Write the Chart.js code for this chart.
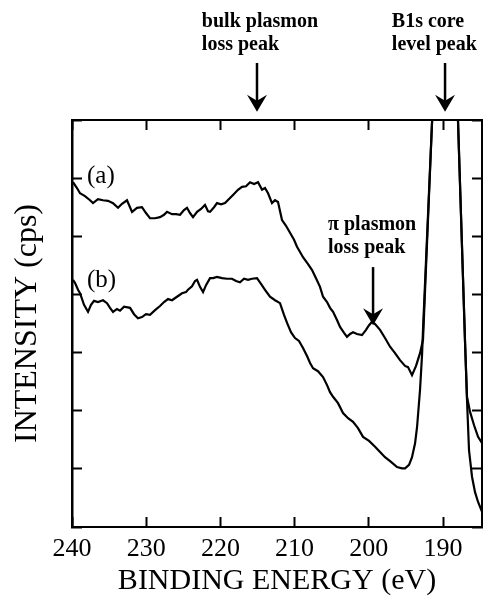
<!DOCTYPE html>
<html>
<head>
<meta charset="utf-8">
<script src="https://cdn.jsdelivr.net/npm/chart.js@4.4.1/dist/chart.umd.min.js"></script>
<style>
  html, body { margin: 0; padding: 0; background: #fff; }
</style>
</head>
<body>
<canvas id="myChart" width="484" height="604"></canvas>
<script>
// binding energy (eV) and intensity (arb.)
const xTicks = [240, 230, 220, 210, 200, 190];
const yTicks = [0, 1, 2, 3, 4, 5, 6, 7];

const aEnergy = [239.87, 239.33, 238.92, 238.25, 237.57, 237.17, 236.50, 235.82, 235.15, 234.47,
  233.80, 233.26, 232.59, 231.91, 231.24, 230.57, 230.03, 229.49, 228.81, 228.14,
  227.60, 227.20, 226.52, 225.98, 225.44, 224.91, 224.50, 224.10, 223.69, 223.15,
  222.61, 222.08, 221.67, 221.40, 220.86, 220.46, 219.92, 219.38, 218.84, 218.30,
  217.63, 217.09, 216.55, 216.01, 215.47, 214.93, 214.39, 213.99, 213.58, 213.05,
  212.64, 212.24, 211.70, 211.16, 210.62, 210.08, 209.68, 209.27, 208.87, 208.19,
  207.65, 207.12, 206.58, 206.17, 205.63, 205.23, 204.82, 204.29, 203.88, 203.34,
  202.94, 202.53, 202.13, 201.59, 200.92, 200.38, 199.97, 199.57, 199.16, 198.49,
  197.82, 197.14, 196.47, 195.80, 195.12, 194.72, 194.18, 193.64, 193.10, 192.70,
  191.48, 189.46, 187.98, 187.03, 186.77, 186.36, 185.82, 185.28, 184.74];
const aCounts = [5.93, 5.83, 5.74, 5.69, 5.62, 5.57, 5.64, 5.62, 5.61, 5.57,
  5.49, 5.56, 5.62, 5.42, 5.49, 5.50, 5.40, 5.31, 5.31, 5.33,
  5.37, 5.42, 5.38, 5.38, 5.37, 5.45, 5.49, 5.40, 5.33, 5.42,
  5.47, 5.54, 5.43, 5.42, 5.50, 5.57, 5.55, 5.57, 5.64, 5.71,
  5.80, 5.85, 5.86, 5.93, 5.90, 5.93, 5.80, 5.83, 5.74, 5.57,
  5.62, 5.59, 5.28, 5.18, 5.06, 4.94, 4.82, 4.73, 4.64, 4.52,
  4.42, 4.28, 4.13, 3.96, 3.87, 3.77, 3.70, 3.56, 3.44, 3.34,
  3.27, 3.32, 3.35, 3.32, 3.30, 3.39, 3.47, 3.53, 3.49, 3.39,
  3.25, 3.10, 2.99, 2.87, 2.77, 2.75, 2.61, 2.77, 2.99, 3.22,
  6.97, 12.6, 6.97, 3.16, 2.24, 1.98, 1.75, 1.55, 1.44];

const bEnergy = [239.87, 239.60, 239.19, 238.92, 238.38, 237.84, 237.44, 237.03, 236.50, 235.82,
  235.28, 234.88, 234.47, 233.94, 233.53, 232.99, 232.18, 231.64, 231.11, 230.57,
  230.03, 229.49, 228.81, 228.14, 227.60, 227.06, 226.52, 225.85, 225.18, 224.64,
  224.37, 223.83, 223.42, 223.15, 222.75, 222.34, 221.94, 221.40, 220.99, 220.46,
  219.78, 219.11, 218.44, 217.90, 217.36, 216.82, 216.28, 215.74, 215.07, 214.53,
  213.99, 213.32, 212.64, 211.97, 211.43, 211.02, 210.49, 209.95, 209.41, 208.87,
  208.33, 207.92, 207.52, 206.85, 206.17, 205.63, 205.23, 204.82, 204.15, 203.48,
  202.80, 202.13, 201.46, 200.78, 199.97, 199.16, 198.49, 197.82, 197.01, 196.20,
  195.53, 195.12, 194.58, 194.18, 193.77, 193.50, 193.10, 192.83, 192.70, 191.48,
  189.46, 187.98, 187.03, 186.77, 186.50, 186.09, 185.69, 185.28, 184.74];
const bCounts = [4.25, 4.20, 4.08, 4.02, 3.82, 3.70, 3.82, 3.89, 3.87, 3.90,
  3.85, 3.77, 3.70, 3.75, 3.72, 3.79, 3.77, 3.66, 3.59, 3.61,
  3.66, 3.65, 3.73, 3.80, 3.87, 3.92, 3.90, 3.96, 4.02, 4.04,
  4.08, 4.14, 4.23, 4.25, 4.13, 4.04, 4.16, 4.28, 4.28, 4.30,
  4.28, 4.27, 4.27, 4.23, 4.21, 4.27, 4.25, 4.27, 4.28, 4.18,
  4.08, 3.96, 3.90, 3.85, 3.65, 3.51, 3.35, 3.25, 3.20, 3.08,
  2.94, 2.82, 2.73, 2.68, 2.58, 2.44, 2.32, 2.24, 2.13, 1.96,
  1.87, 1.81, 1.70, 1.55, 1.48, 1.38, 1.29, 1.20, 1.12, 1.03,
  1.01, 1.01, 1.07, 1.20, 1.44, 1.72, 2.36, 2.96, 3.39, 6.97,
  12.6, 6.97, 3.16, 2.18, 1.32, 0.86, 0.60, 0.43, 0.26];

// text labels and arrows, placed in data units
const notes = [
  { lines: ['bulk plasmon', 'loss peak'], x: 222.5, y: 8.6, font: 'bold 20px "Liberation Serif"' },
  { lines: ['B1s core', 'level peak'], x: 196.9, y: 8.6, font: 'bold 20px "Liberation Serif"' },
  { lines: ['\u03c0 plasmon', 'loss peak'], x: 205.5, y: 5.11, font: 'bold 20px "Liberation Serif"' },
  { lines: ['(a)'], x: 237.98, y: 5.92, font: '25px "Liberation Serif"' },
  { lines: ['(b)'], x: 237.98, y: 4.13, font: '25px "Liberation Serif"' }
];
const arrows = [
  { x: 215.07, from: 7.98, to: 7.14 },
  { x: 189.73, from: 7.98, to: 7.14 },
  { x: 199.43, from: 4.47, to: 3.47 }
];

const serif = 'Liberation Serif';
const curve = (xs, ys) => xs.map((v, i) => ({ x: v, y: ys[i] }));

const notesPlugin = {
  id: 'notes',
  afterDraw(chart) {
    const { ctx } = chart;
    const sx = chart.scales.x, sy = chart.scales.y;
    ctx.save();
    ctx.fillStyle = '#000';
    ctx.strokeStyle = '#000';
    ctx.textAlign = 'left';
    ctx.textBaseline = 'alphabetic';
    notes.forEach(n => {
      ctx.font = n.font;
      n.lines.forEach((t, i) => {
        ctx.fillText(t, sx.getPixelForValue(n.x), sy.getPixelForValue(n.y) + i * 23);
      });
    });
    arrows.forEach(a => {
      const px = sx.getPixelForValue(a.x);
      const y0 = sy.getPixelForValue(a.from);
      const y1 = sy.getPixelForValue(a.to);
      ctx.lineWidth = 2.5;
      ctx.beginPath();
      ctx.moveTo(px, y0);
      ctx.lineTo(px, y1 - 10);
      ctx.stroke();
      ctx.beginPath();
      ctx.moveTo(px - 10, y1 - 17);
      ctx.lineTo(px, y1);
      ctx.lineTo(px + 10, y1 - 17);
      ctx.lineTo(px, y1 - 11);
      ctx.closePath();
      ctx.fill();
    });
    ctx.restore();
  }
};

const inward = { drawOnChartArea: false, drawTicks: true, tickLength: -10, tickWidth: 2, tickColor: '#000' };
const setX = s => { s.ticks = xTicks.map(v => ({ value: v })); };
const setY = s => { s.ticks = yTicks.map(v => ({ value: v })); };

const config = {
  type: 'line',
  data: {
    datasets: [
      { label: '(a)', data: curve(aEnergy, aCounts), borderColor: '#000', borderWidth: 2.2, pointRadius: 0, tension: 0, fill: false },
      { label: '(b)', data: curve(bEnergy, bCounts), borderColor: '#000', borderWidth: 2.2, pointRadius: 0, tension: 0, fill: false }
    ]
  },
  options: {
    responsive: false,
    animation: false,
    devicePixelRatio: 1,
    layout: { padding: 0 },
    plugins: { legend: { display: false }, tooltip: { enabled: false } },
    scales: {
      x: {
        type: 'linear', position: 'bottom', reverse: true, min: 184.75, max: 240,
        afterBuildTicks: setX,
        afterFit: s => { s.height = 77; },
        grid: inward,
        border: { color: '#000', width: 2 },
        ticks: { color: '#000', padding: 17, maxRotation: 0, font: { family: serif, size: 26 } },
        title: { display: true, text: 'BINDING ENERGY (eV)', color: '#000', padding: { top: 0, bottom: 5 }, font: { family: serif, size: 30 } }
      },
      x2: {
        type: 'linear', position: 'top', reverse: true, min: 184.75, max: 240,
        afterBuildTicks: setX,
        afterFit: s => { s.height = 120; },
        grid: inward,
        border: { color: '#000', width: 2 },
        ticks: { display: false }
      },
      y: {
        type: 'linear', position: 'left', min: 0, max: 7,
        afterBuildTicks: setY,
        afterFit: s => { s.width = 72; },
        grid: inward,
        border: { color: '#000', width: 2.5 },
        ticks: { display: false },
        title: { display: true, text: 'INTENSITY (cps)', color: '#000', padding: { top: 8, bottom: 0 }, font: { family: serif, size: 32 } }
      },
      y2: {
        type: 'linear', position: 'right', min: 0, max: 7,
        afterBuildTicks: setY,
        afterFit: s => { s.width = 2; },
        grid: inward,
        border: { color: '#000', width: 2 },
        ticks: { display: false }
      }
    }
  },
  plugins: [notesPlugin]
};

const myChart = new Chart(document.getElementById('myChart'), config);
</script>
</body>
</html>
